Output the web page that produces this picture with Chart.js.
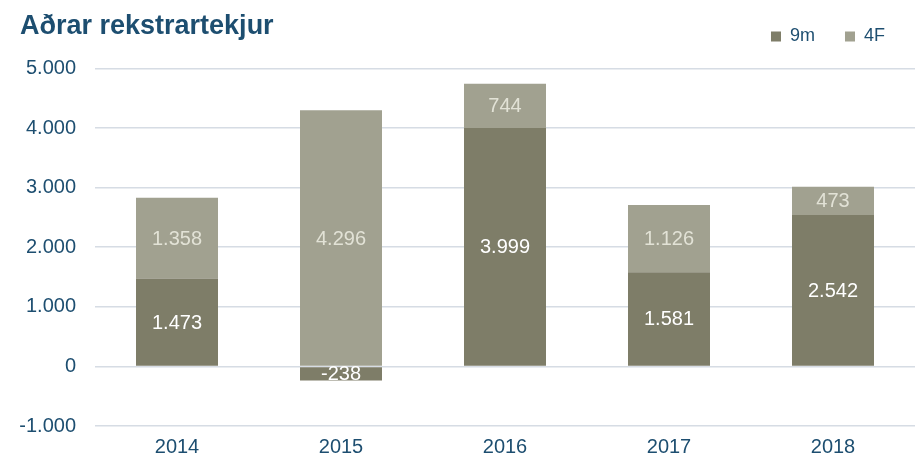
<!DOCTYPE html>
<html>
<head>
<meta charset="utf-8">
<script src="https://cdn.jsdelivr.net/npm/chart.js@4.4.0/dist/chart.umd.min.js"></script>
<style>
    html, body { margin: 0; padding: 0; background: #ffffff; }
    #wrap { width: 919px; height: 458px; }
</style>
</head>
<body>
<div id="wrap"><canvas id="chart" width="919" height="458"></canvas></div>
<script>
const years = ['2014', '2015', '2016', '2017', '2018'];
const nineMonths = [1473, -238, 3999, 1581, 2542];
const lastFour = [1358, 4296, 744, 1126, 473];
const seriesNames = ['9m', '4F'];
const chartTitle = 'Aðrar rekstrartekjur';

const blue = '#1d4e70';
const darkBar = '#7e7d68';
const lightBar = '#a1a190';
const fontFamily = '"Liberation Sans", Arial, sans-serif';

function formatIs(v) {
    const s = Math.abs(Math.round(v)).toString().replace(/\B(?=(\d{3})+(?!\d))/g, '.');
    return (v < 0 ? '-' : '') + s;
}

// draws the value in the middle of each bar segment
const barLabels = {
    id: 'barLabels',
    afterDatasetsDraw(chart) {
        const ctx = chart.ctx;
        ctx.save();
        ctx.font = '20px ' + fontFamily;
        ctx.textAlign = 'center';
        ctx.textBaseline = 'middle';
        chart.data.datasets.forEach((ds, i) => {
            const meta = chart.getDatasetMeta(i);
            ctx.fillStyle = i === 0 ? '#ffffff' : '#e2e2d6';
            meta.data.forEach((bar, j) => {
                const y = (bar.y + bar.base) / 2;
                ctx.fillText(formatIs(ds.data[j]), bar.x, y + 1);
            });
        });
        ctx.restore();
    }
};

// legend sits on the title row, so lift it a bit
const liftLegend = {
    id: 'liftLegend',
    afterLayout(chart) {
        if (chart.legend) {
            chart.legend.top -= 13;
            chart.legend.bottom -= 13;
        }
    }
};

new Chart(document.getElementById('chart'), {
    type: 'bar',
    data: {
        labels: years,
        datasets: [{
            label: seriesNames[0],
            data: nineMonths,
            backgroundColor: darkBar,
            barPercentage: 0.5,
            categoryPercentage: 1
        }, {
            label: seriesNames[1],
            data: lastFour,
            backgroundColor: lightBar,
            barPercentage: 0.5,
            categoryPercentage: 1
        }]
    },
    options: {
        responsive: false,
        animation: false,
        layout: {
            padding: { left: 20, right: 4, top: 0, bottom: 0 }
        },
        scales: {
            x: {
                stacked: true,
                afterFit(scale) { scale.height = 32; },
                grid: { display: false },
                border: { display: false },
                ticks: {
                    color: blue,
                    padding: 1,
                    font: { size: 20, family: fontFamily }
                }
            },
            y: {
                stacked: true,
                min: -1000,
                max: 5000,
                afterFit(scale) { scale.width = 75; },
                grid: { color: '#d6dce4', lineWidth: 1.5, drawTicks: false },
                border: { display: false },
                ticks: {
                    stepSize: 1000,
                    color: blue,
                    padding: 19,
                    font: { size: 20, family: fontFamily },
                    callback: v => formatIs(v)
                }
            }
        },
        plugins: {
            tooltip: { enabled: false },
            title: {
                display: true,
                text: chartTitle,
                align: 'start',
                color: blue,
                padding: { top: 10, bottom: -32 },
                font: { size: 27, weight: 'bold', family: fontFamily }
            },
            legend: {
                position: 'top',
                align: 'end',
                labels: {
                    color: blue,
                    boxWidth: 10,
                    boxHeight: 10,
                    padding: 30,
                    font: { size: 18, family: fontFamily }
                }
            }
        }
    },
    plugins: [barLabels, liftLegend]
});
</script>
</body>
</html>
